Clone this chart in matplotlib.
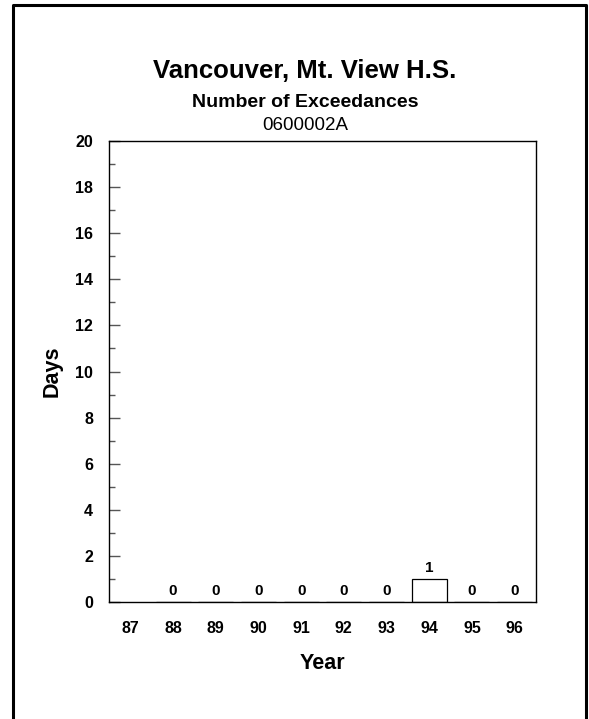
import numpy as np
import matplotlib.pyplot as plt
from matplotlib.lines import Line2D
from matplotlib.ticker import MultipleLocator

plt.rcParams['font.family'] = ['Liberation Sans', 'DejaVu Sans']

years = [87, 88, 89, 90, 91, 92, 93, 94, 95, 96]
year_labels = ['87', '88', '89', '90', '91', '92', '93', '94', '95', '96']
bar_years = [88, 89, 90, 91, 92, 93, 94, 95, 96]
exceedances = [0, 0, 0, 0, 0, 0, 1, 0, 0]

W, H = 589, 719
fig = plt.figure(figsize=(W / 100, H / 100), dpi=100)

# pixel -> figure fraction helpers
fx = lambda p: p / W
fy = lambda p: 1 - p / H

# outer frame, open at the bottom
frame = Line2D([fx(13), fx(13), fx(586), fx(586)], [0, fy(5), fy(5), 0],
               transform=fig.transFigure, color='black', lw=2.2)
fig.add_artist(frame)

ax = fig.add_axes([fx(109), fy(602), (536 - 109) / W, (602 - 141) / H])
ax.bar(bar_years, exceedances, width=0.82, facecolor='white',
       edgecolor='black', linewidth=0.9)
for x, v in zip(bar_years, exceedances):
    ax.annotate(str(v), (x, v), xytext=(0, 3), textcoords='offset points',
                ha='center', va='bottom', fontsize=11, fontweight='bold')

ax.set_xlim(86.5, 96.5)
ax.set_ylim(0, 20)
ax.set_xticks(years)
ax.set_xticklabels(year_labels, fontsize=11.5, fontweight='bold')
ax.tick_params(axis='x', length=0, pad=14)
ax.yaxis.set_major_locator(MultipleLocator(2))
ax.yaxis.set_minor_locator(MultipleLocator(1))
ax.tick_params(axis='y', which='major', direction='in', length=8,
               width=1, color='#555555', pad=11.5, labelsize=11.5)
ax.tick_params(axis='y', which='minor', direction='in', length=4,
               width=1, color='#555555')
for lbl in ax.get_yticklabels():
    lbl.set_fontweight('bold')
for s in ax.spines.values():
    s.set_linewidth(1.0)

ax.set_xlabel('Year', fontsize=15.5, fontweight='bold', labelpad=12)
ax.set_ylabel('Days', fontsize=15.5, fontweight='bold', labelpad=9)

cx = fx(305)
fig.text(cx, fy(78), 'Vancouver, Mt. View H.S.', ha='center', va='baseline',
         fontsize=18.5, fontweight='bold')
fig.text(cx, fy(107), 'Number of Exceedances', ha='center', va='baseline',
         fontsize=14, fontweight='bold')
fig.text(cx, fy(130), '0600002A', ha='center', va='baseline', fontsize=13.5)

fig.savefig('out.png', dpi=100)
